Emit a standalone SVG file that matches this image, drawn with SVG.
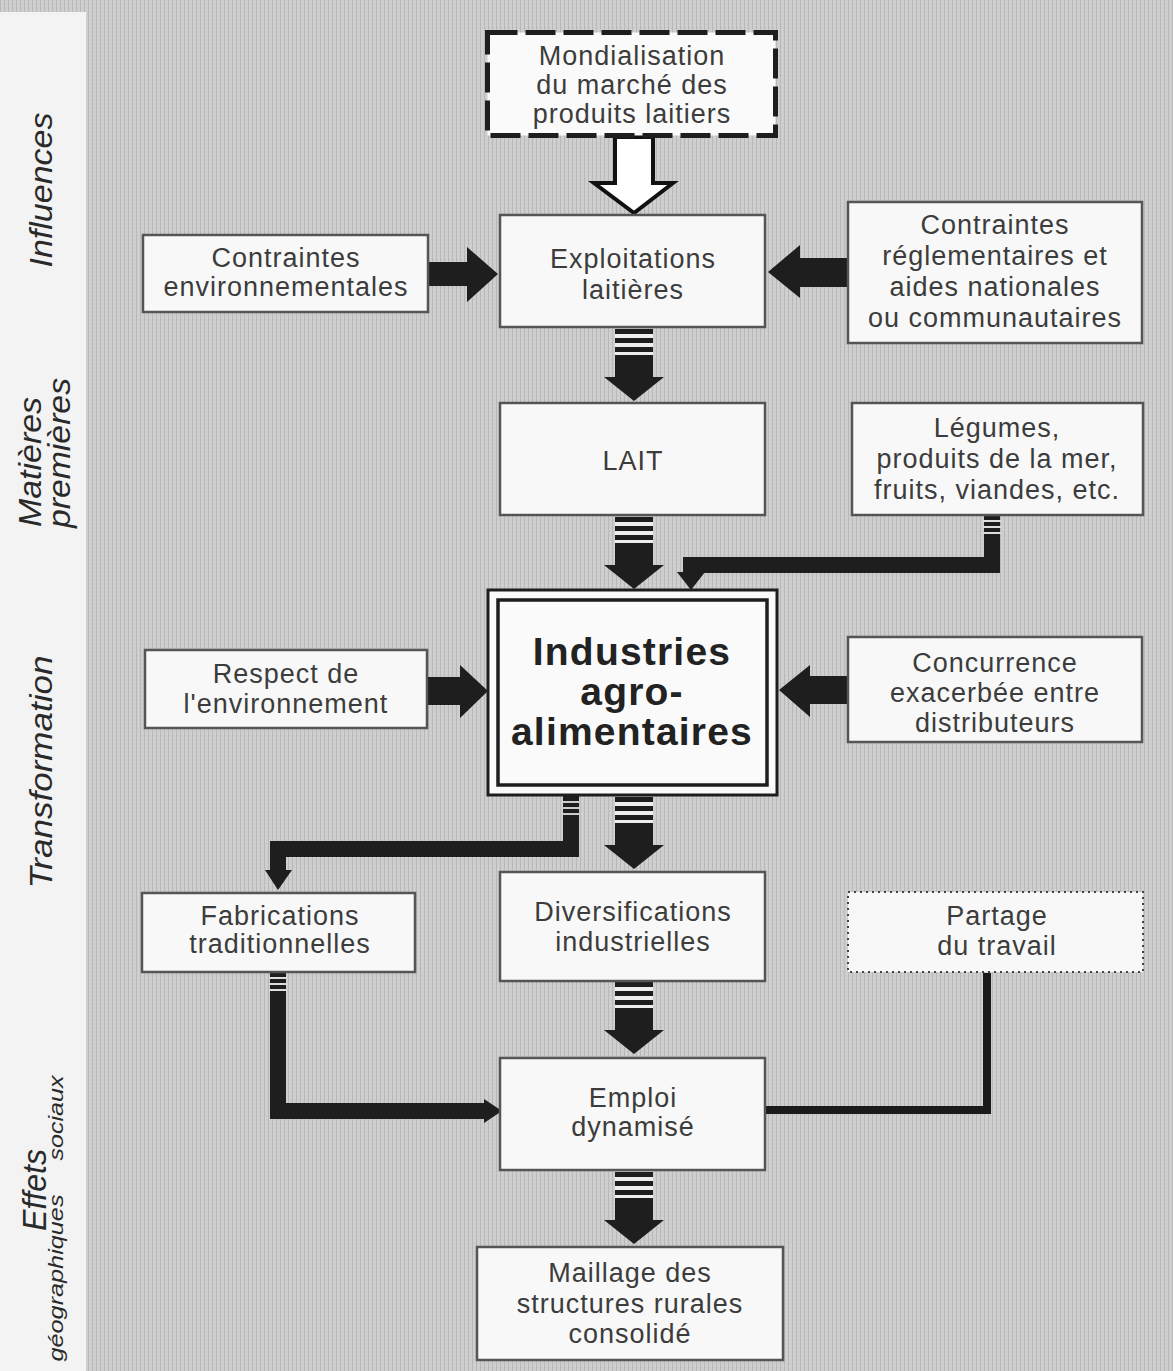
<svg xmlns="http://www.w3.org/2000/svg" width="1173" height="1371" viewBox="0 0 1173 1371">
<defs>
<style>
.box{fill:#f8f8f8;stroke:#555;stroke-width:2.5}
.t{font-family:"Liberation Sans",Arial,sans-serif;font-size:27px;fill:#3c3c3c;text-anchor:middle;letter-spacing:1px}
.tb{font-family:"Liberation Sans",Arial,sans-serif;font-size:39px;font-weight:bold;fill:#222;text-anchor:middle;letter-spacing:1.2px}
.side{font-family:"Liberation Sans",Arial,sans-serif;font-style:italic;fill:#2a2a2a;text-anchor:middle}
.ar{fill:#1e1e1e}
.el{fill:none;stroke:#1e1e1e;stroke-width:16;stroke-linejoin:miter}
</style>
<pattern id="tex" width="4" height="4" patternUnits="userSpaceOnUse">
<rect width="4" height="4" fill="#cdcdcd"/>
<rect x="0" width="1" height="4" fill="#b9b9b9"/>
<rect x="2" y="1" width="1" height="1" fill="#dadada"/>
</pattern>
<g id="down">
<rect x="-19" y="0" width="38" height="5" fill="#1e1e1e"/>
<rect x="-19" y="5" width="38" height="4" fill="#eee"/>
<rect x="-19" y="9" width="38" height="5" fill="#1e1e1e"/>
<rect x="-19" y="14" width="38" height="4" fill="#eee"/>
<rect x="-19" y="18" width="38" height="5" fill="#1e1e1e"/>
<rect x="-19" y="23" width="38" height="3" fill="#eee"/>
<polygon points="-19,26 19,26 19,48 30,48 0,72 -30,48 -19,48" fill="#1e1e1e"/>
</g>
</defs>
<rect x="0" y="0" width="1173" height="1371" fill="url(#tex)"/>
<rect x="0" y="12" width="86" height="1359" fill="#f3f3f3"/>

<g id="side-labels">
<text class="side" font-size="32" transform="translate(52,190) rotate(-90)" textLength="155" lengthAdjust="spacingAndGlyphs">Influences</text>
<text class="side" font-size="32" transform="translate(41,462) rotate(-90)" textLength="130" lengthAdjust="spacingAndGlyphs">Matières</text>
<text class="side" font-size="32" transform="translate(70,453) rotate(-90)" textLength="150" lengthAdjust="spacingAndGlyphs">premières</text>
<text class="side" font-size="32" transform="translate(52,772) rotate(-90)" textLength="233" lengthAdjust="spacingAndGlyphs">Transformation</text>
<text class="side" font-size="34" transform="translate(46,1190) rotate(-90)" textLength="82" lengthAdjust="spacingAndGlyphs">Effets</text>
<text class="side" font-size="21" transform="translate(63,1118) rotate(-90)" textLength="85" lengthAdjust="spacingAndGlyphs">sociaux</text>
<text class="side" font-size="21" transform="translate(63,1278) rotate(-90)" textLength="167" lengthAdjust="spacingAndGlyphs">géographiques</text>
</g>

<g id="connectors">
<polygon points="615,137 653,137 653,183 673,183 634,213 594,183 615,183" fill="#fff" stroke="#111" stroke-width="4" stroke-linejoin="miter"/>
<polygon class="ar" points="428,262 467,262 467,247 498,274 467,302 467,286 428,286"/>
<polygon class="ar" points="848,258 800,258 800,245 768,272 800,298 800,287 848,287"/>
<polygon class="ar" points="428,677 460,677 460,665 488,691 460,718 460,705 428,705"/>
<polygon class="ar" points="848,676 810,676 810,665 779,690 810,717 810,704 848,704"/>
<use href="#down" x="634" y="329"/>
<use href="#down" x="634" y="517"/>
<use href="#down" x="634" y="797"/>
<use href="#down" x="634" y="982"/>
<use href="#down" x="634" y="1172"/>
<path class="el" d="M992,516 V565 H691 V574"/>
<rect x="983" y="520" width="18" height="2" fill="#ddd"/>
<rect x="983" y="526" width="18" height="2" fill="#ddd"/>
<rect x="983" y="532" width="18" height="2" fill="#ddd"/>
<polygon class="ar" points="677,572 705,572 691,590"/>
<path class="el" d="M571,796 V849 H278 V872" stroke-width="15"/>
<rect x="563" y="801" width="16" height="2" fill="#ccc"/>
<rect x="563" y="807" width="16" height="2" fill="#ccc"/>
<rect x="563" y="813" width="16" height="2" fill="#ccc"/>
<polygon class="ar" points="265,870 292,870 278,890"/>
<path class="el" d="M278,973 V1111 H486"/>
<rect x="269" y="977" width="18" height="2" fill="#ddd"/>
<rect x="269" y="983" width="18" height="2" fill="#ddd"/>
<rect x="269" y="989" width="18" height="2" fill="#ddd"/>
<polygon class="ar" points="484,1099 484,1123 502,1111"/>
<path d="M987,973 V1110 H766" fill="none" stroke="#1a1a1a" stroke-width="8"/>
</g>

<g id="n-mondialisation">
<rect x="487.5" y="32.5" width="288" height="103" fill="#fafafa" stroke="#1e1e1e" stroke-width="5" stroke-dasharray="30 8"/>
<text class="t"><tspan x="632" y="65">Mondialisation</tspan><tspan x="632" y="94">du marché des</tspan><tspan x="632" y="123">produits laitiers</tspan></text>
</g>
<g id="n-exploitations">
<rect class="box" x="500" y="215" width="265" height="112"/>
<text class="t"><tspan x="633" y="268">Exploitations</tspan><tspan x="633" y="299">laitières</tspan></text>
</g>
<g id="n-contraintes-env">
<rect class="box" x="143" y="235" width="285" height="77"/>
<text class="t"><tspan x="286" y="267">Contraintes</tspan><tspan x="286" y="296">environnementales</tspan></text>
</g>
<g id="n-contraintes-regl">
<rect class="box" x="848" y="202" width="294" height="141"/>
<text class="t"><tspan x="995" y="234">Contraintes</tspan><tspan x="995" y="265">réglementaires et</tspan><tspan x="995" y="296">aides nationales</tspan><tspan x="995" y="327">ou communautaires</tspan></text>
</g>
<g id="n-lait">
<rect class="box" x="500" y="403" width="265" height="112"/>
<text class="t" x="633" y="470">LAIT</text>
</g>
<g id="n-legumes">
<rect class="box" x="852" y="403" width="291" height="112"/>
<text class="t"><tspan x="997" y="437">Légumes,</tspan><tspan x="997" y="468">produits de la mer,</tspan><tspan x="997" y="499">fruits, viandes, etc.</tspan></text>
</g>
<g id="n-industries">
<rect x="488" y="590" width="289" height="205" fill="#fafafa" stroke="#1e1e1e" stroke-width="3"/>
<rect x="498" y="600" width="269" height="185" fill="#fafafa" stroke="#1e1e1e" stroke-width="3.5"/>
<text class="tb"><tspan x="632" y="665">Industries</tspan><tspan x="632" y="705">agro-</tspan><tspan x="632" y="745">alimentaires</tspan></text>
</g>
<g id="n-respect">
<rect class="box" x="145" y="650" width="282" height="78"/>
<text class="t"><tspan x="286" y="683">Respect de</tspan><tspan x="286" y="713">l'environnement</tspan></text>
</g>
<g id="n-concurrence">
<rect class="box" x="848" y="637" width="294" height="105"/>
<text class="t"><tspan x="995" y="672">Concurrence</tspan><tspan x="995" y="702">exacerbée entre</tspan><tspan x="995" y="732">distributeurs</tspan></text>
</g>
<g id="n-fabrications">
<rect class="box" x="142" y="893" width="273" height="79"/>
<text class="t"><tspan x="280" y="925">Fabrications</tspan><tspan x="280" y="953">traditionnelles</tspan></text>
</g>
<g id="n-diversifications">
<rect class="box" x="500" y="872" width="265" height="109"/>
<text class="t"><tspan x="633" y="921">Diversifications</tspan><tspan x="633" y="951">industrielles</tspan></text>
</g>
<g id="n-partage">
<rect x="848" y="892" width="295" height="80" fill="#f8f8f8" stroke="#444" stroke-width="2" stroke-dasharray="2 4"/>
<text class="t"><tspan x="997" y="925">Partage</tspan><tspan x="997" y="955">du travail</tspan></text>
</g>
<g id="n-emploi">
<rect class="box" x="500" y="1058" width="265" height="112"/>
<text class="t"><tspan x="633" y="1107">Emploi</tspan><tspan x="633" y="1136">dynamisé</tspan></text>
</g>
<g id="n-maillage">
<rect class="box" x="477" y="1247" width="306" height="113"/>
<text class="t"><tspan x="630" y="1282">Maillage des</tspan><tspan x="630" y="1313">structures rurales</tspan><tspan x="630" y="1343">consolidé</tspan></text>
</g>
</svg>
